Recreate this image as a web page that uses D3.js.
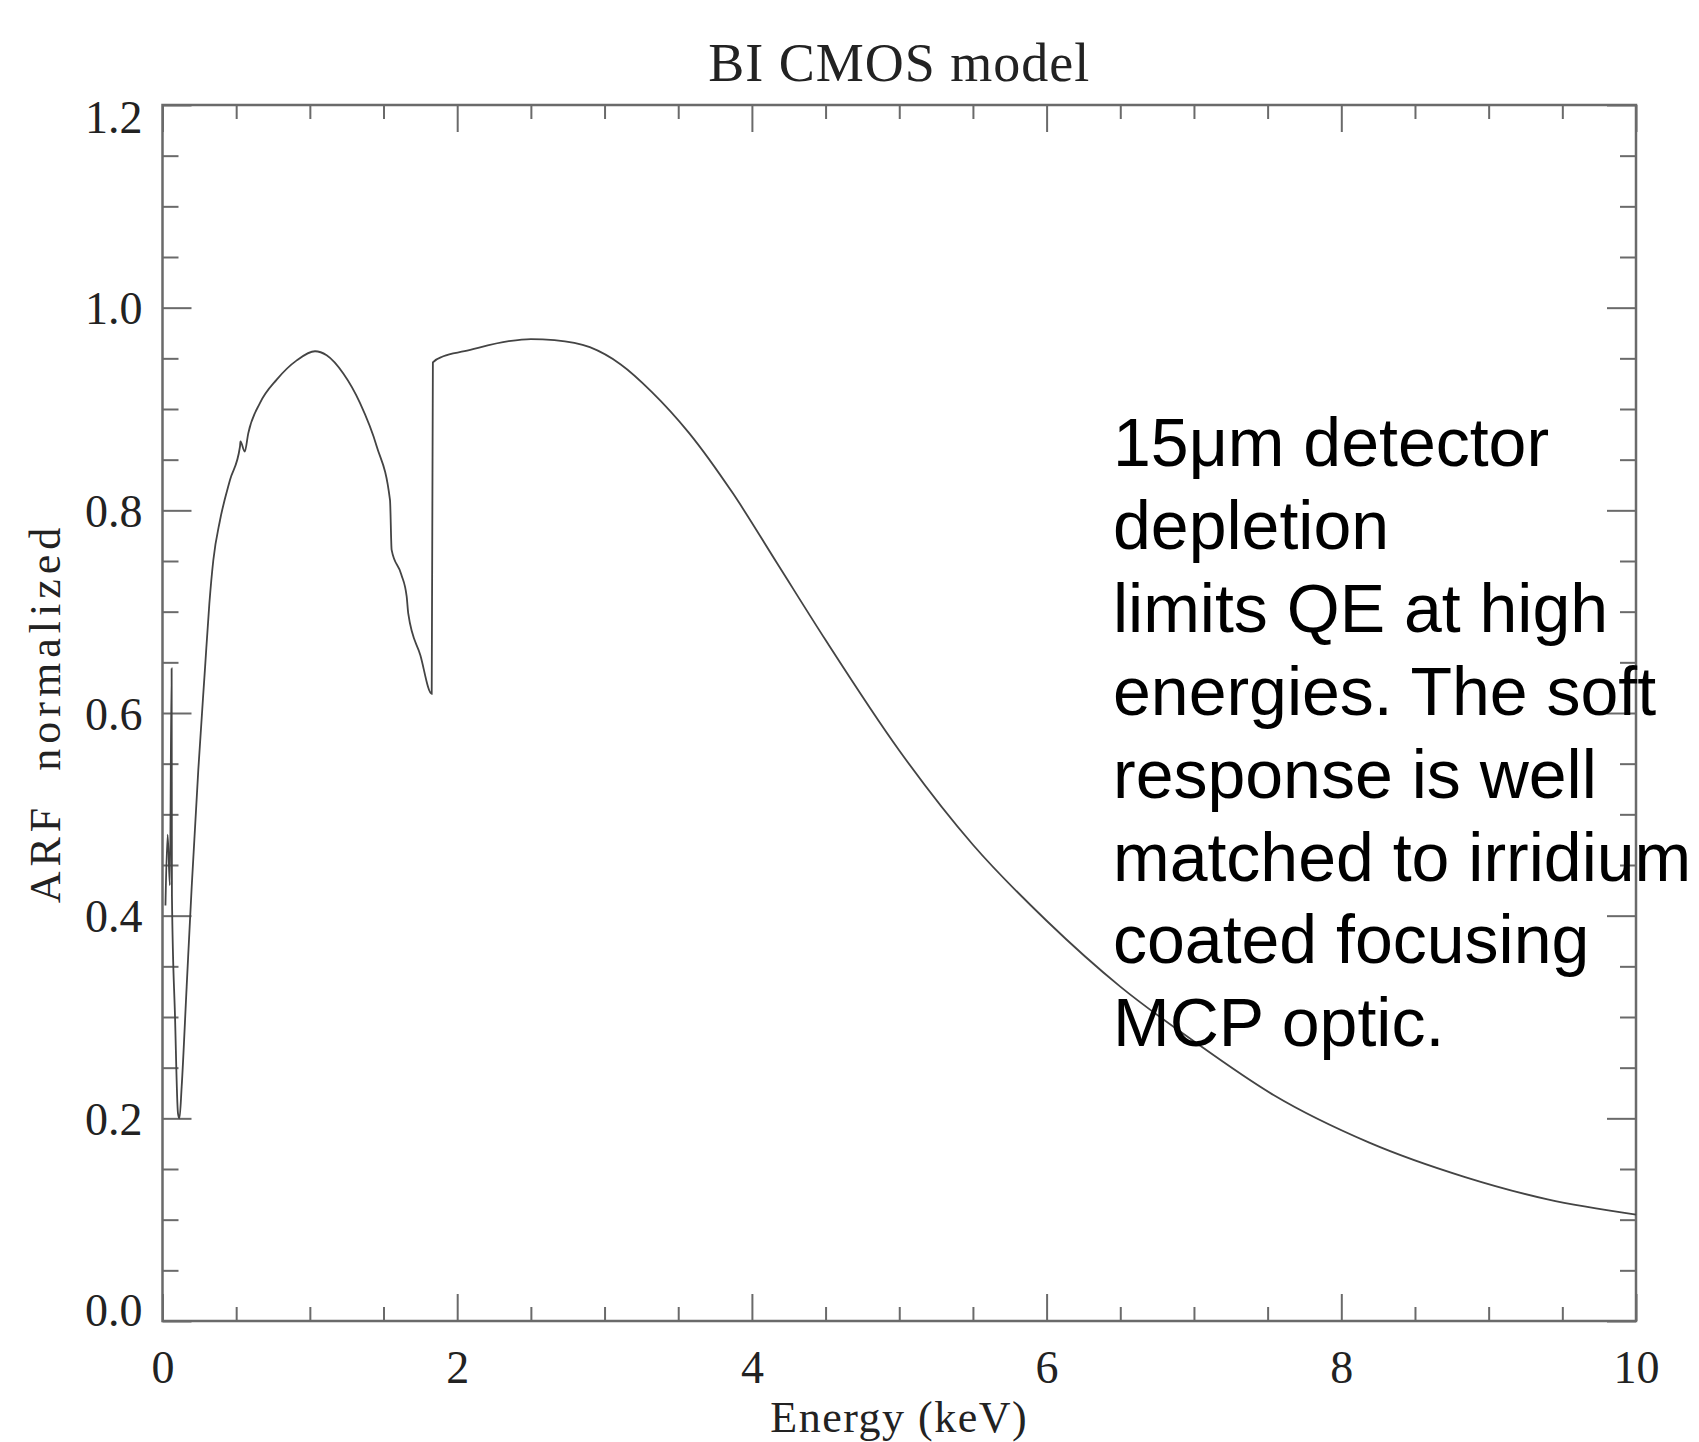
<!DOCTYPE html>
<html>
<head>
<meta charset="utf-8">
<script src="https://cdn.jsdelivr.net/npm/d3@7"></script>
<style>
body { margin: 0; background: #fff; }
</style>
</head>
<body>
<svg id="chart"></svg>
<script>
// values
var energy = [0.02, 0.035, 0.05, 0.062, 0.064, 0.085, 0.105, 0.115, 0.13, 0.164, 0.198, 0.243,
              0.288, 0.318, 0.345, 0.39, 0.458, 0.526, 0.529, 0.558, 0.582, 0.662, 0.775, 0.911,
              1.035, 1.114, 1.227, 1.34, 1.454, 1.544, 1.555, 1.62, 1.657, 1.668, 1.75, 1.827,
              1.835, 1.906, 2.05, 2.35, 2.5, 2.66, 2.9, 3.11, 3.32, 3.57, 3.87, 4.17, 4.5,
              5.0, 5.5, 6.0, 6.5, 7.0, 7.54, 8.19, 8.84, 9.4, 10.0];
var arf = [0.41, 0.48, 0.43, 0.644, 0.42, 0.30, 0.205, 0.20, 0.231, 0.33, 0.428, 0.544,
           0.643, 0.708, 0.751, 0.79, 0.83, 0.863, 0.868, 0.858, 0.876, 0.906, 0.929, 0.948,
           0.957, 0.953, 0.935, 0.906, 0.863, 0.81, 0.761, 0.737, 0.715, 0.698, 0.657, 0.619,
           0.946, 0.952, 0.957, 0.967, 0.969, 0.968, 0.961, 0.944, 0.917, 0.877, 0.817, 0.748, 0.672,
           0.563, 0.47, 0.395, 0.33, 0.276, 0.223, 0.176, 0.142, 0.12, 0.105];

var xTicks = [0, 2, 4, 6, 8, 10];
var yTicks = [0.0, 0.2, 0.4, 0.6, 0.8, 1.0, 1.2];
var xMinor = [0.5, 1, 1.5, 2.5, 3, 3.5, 4.5, 5, 5.5, 6.5, 7, 7.5, 8.5, 9, 9.5];
var yMinor = [0.05, 0.1, 0.15, 0.25, 0.3, 0.35, 0.45, 0.5, 0.55, 0.65, 0.7, 0.75,
              0.85, 0.9, 0.95, 1.05, 1.1, 1.15];

var title = "BI CMOS model";
var xTitle = "Energy (keV)";
var yTitle = "ARF  normalized";
var note = ["15\u03BCm detector", "depletion", "limits QE at high", "energies. The soft",
            "response is well", "matched to irridium", "coated focusing", "MCP optic."];

var width = 1699;
var height = 1442;
var plotLeft = 162.5, plotRight = 1636, plotTop = 105, plotBottom = 1321;

var svg = d3.select("#chart")
    .attr("width", width)
    .attr("height", height);

var xScale = d3.scaleLinear().domain([0, 10]).range([plotLeft, plotRight]);
var yScale = d3.scaleLinear().domain([0, 1.2]).range([plotBottom, plotTop]);

var axisColor = "#6a6a6a";
var serif = "'Liberation Serif', 'Times New Roman', serif";

// frame
svg.append("rect")
    .attr("x", plotLeft).attr("y", plotTop)
    .attr("width", plotRight - plotLeft).attr("height", plotBottom - plotTop)
    .attr("fill", "none")
    .attr("stroke", axisColor)
    .attr("stroke-width", 2.5);

var styleAxis = function(g)
{
    g.select(".domain").remove();
    g.selectAll("line").attr("stroke", axisColor).attr("stroke-width", 2);
    g.selectAll("text").remove();
}

// bottom axis with labels
var xAxis = svg.append("g")
    .attr("transform", "translate(0," + plotBottom + ")")
    .call(d3.axisBottom(xScale).tickValues(xTicks).tickSize(-27).tickFormat(d3.format("d")));
xAxis.select(".domain").remove();
xAxis.selectAll("line").attr("stroke", axisColor).attr("stroke-width", 2);
xAxis.selectAll("text")
    .attr("y", 62)
    .attr("dy", 0)
    .attr("fill", "#222")
    .style("font-family", serif)
    .style("font-size", "46px");

svg.append("g").attr("transform", "translate(0," + plotBottom + ")")
    .call(d3.axisBottom(xScale).tickValues(xMinor).tickSize(-14)).call(styleAxis);
svg.append("g").attr("transform", "translate(0," + plotTop + ")")
    .call(d3.axisTop(xScale).tickValues(xTicks).tickSize(-27)).call(styleAxis);
svg.append("g").attr("transform", "translate(0," + plotTop + ")")
    .call(d3.axisTop(xScale).tickValues(xMinor).tickSize(-14)).call(styleAxis);

// left axis with labels
var yAxis = svg.append("g")
    .attr("transform", "translate(" + plotLeft + ",0)")
    .call(d3.axisLeft(yScale).tickValues(yTicks).tickSize(-29).tickFormat(d3.format(".1f")));
yAxis.select(".domain").remove();
yAxis.selectAll("line").attr("stroke", axisColor).attr("stroke-width", 2);
yAxis.selectAll("text")
    .attr("x", -20)
    .attr("dy", function(d)
    {
        if (d == 1.2) return "0.6em";
        if (d == 0) return "0.1em";
        return "0.35em";
    })
    .attr("fill", "#222")
    .style("font-family", serif)
    .style("font-size", "46px");

svg.append("g").attr("transform", "translate(" + plotLeft + ",0)")
    .call(d3.axisLeft(yScale).tickValues(yMinor).tickSize(-16)).call(styleAxis);
svg.append("g").attr("transform", "translate(" + plotRight + ",0)")
    .call(d3.axisRight(yScale).tickValues(yTicks).tickSize(-29)).call(styleAxis);
svg.append("g").attr("transform", "translate(" + plotRight + ",0)")
    .call(d3.axisRight(yScale).tickValues(yMinor).tickSize(-16)).call(styleAxis);

// curve
var points = energy.map(function(e, i) { return [e, arf[i]]; });
var line = d3.line()
    .x(function(d) { return xScale(d[0]); })
    .y(function(d) { return yScale(d[1]); })
    .curve(d3.curveMonotoneX);

svg.append("path")
    .datum(points)
    .attr("d", line)
    .attr("fill", "none")
    .attr("stroke", "#444")
    .attr("stroke-width", 1.8);

// titles
svg.append("text")
    .attr("x", (plotLeft + plotRight) / 2)
    .attr("y", 81)
    .attr("text-anchor", "middle")
    .attr("fill", "#222")
    .style("font-family", serif)
    .style("font-size", "54px")
    .style("letter-spacing", "1px")
    .text(title);

svg.append("text")
    .attr("x", (plotLeft + plotRight) / 2)
    .attr("y", 1432)
    .attr("text-anchor", "middle")
    .attr("fill", "#222")
    .style("font-family", serif)
    .style("font-size", "44px")
    .style("letter-spacing", "1.5px")
    .text(xTitle);

svg.append("text")
    .attr("transform", "translate(60," + ((plotTop + plotBottom) / 2) + ") rotate(-90)")
    .attr("text-anchor", "middle")
    .attr("fill", "#222")
    .style("font-family", serif)
    .style("font-size", "44px")
    .style("letter-spacing", "5px")
    .style("white-space", "pre")
    .text(yTitle);

// annotation
svg.append("g")
    .selectAll("text")
    .data(note)
    .enter()
    .append("text")
    .attr("x", 1113)
    .attr("y", function(d, i) { return 466 + i * 82.9; })
    .attr("fill", "#000")
    .style("font-family", "'Liberation Sans', Arial, sans-serif")
    .style("font-size", "68px")
    .text(function(d) { return d; });
</script>
</body>
</html>
